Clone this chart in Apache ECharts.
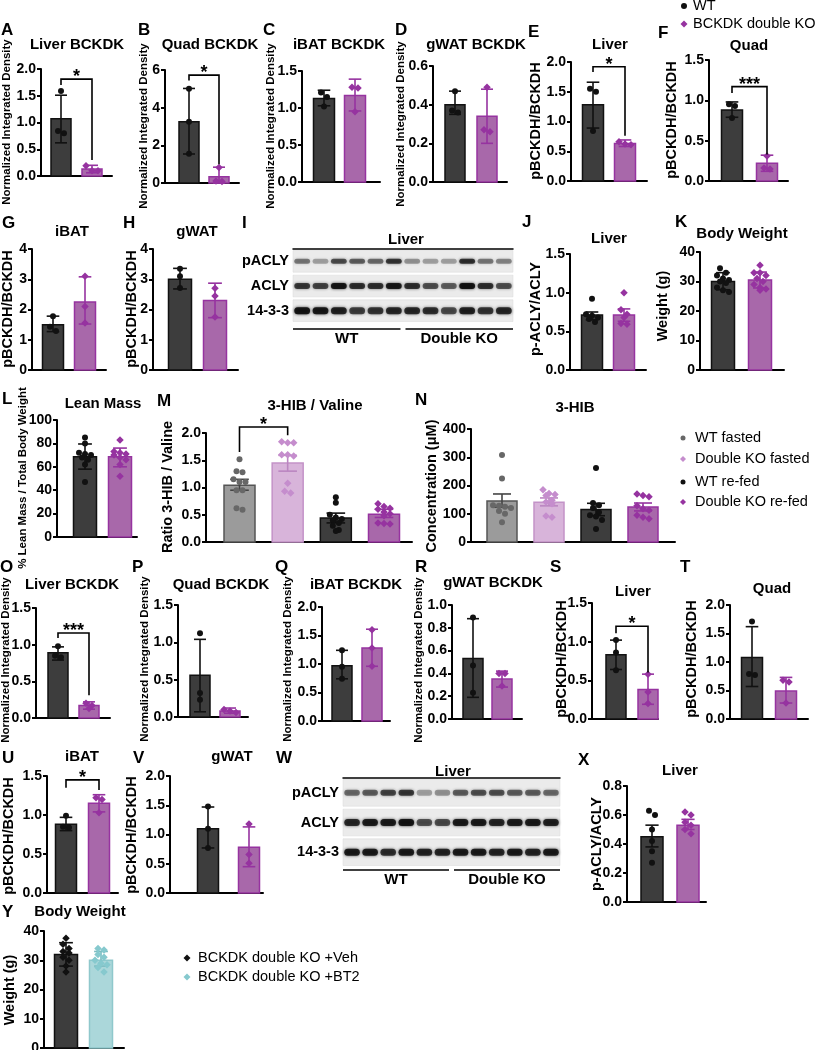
<!DOCTYPE html>
<html><head><meta charset="utf-8">
<script src="https://cdn.jsdelivr.net/npm/echarts@6/dist/echarts.min.js"></script>
<style>html,body{margin:0;padding:0;background:#fff}#c{width:815px;height:1050px}</style>
</head><body><div id="c"></div><script>
// ================= DATA =================
// Each panel: mean bar heights, error bar [low, high], individual points, significance bracket
// bracket = [x1, x2, top, left leg end, right leg end, label] in axis units
const A_mean = [1.07, 0.13], A_err = [[0.62, 1.51], [0.06, 0.20]];
const A_wt = [1.59, 0.80, 0.84], A_ko = [0.19, 0.10, 0.10];
const A_sig = [1, 2, 1.81, 1.70, 0.30, '*'];
const B_mean = [3.25, 0.33], B_err = [[1.54, 5.02], [0, 0.84]];
const B_wt = [5.0, 3.25, 1.55], B_ko = [0.82, 0.10, 0.08];
const B_sig = [1, 2, 5.73, 5.44, 1.0, '*'];
const C_mean = [1.13, 1.17], C_err = [[1.03, 1.24], [0.96, 1.39]];
const C_wt = [1.21, 1.15, 1.02], C_ko = [1.28, 1.27, 0.95];
const D_mean = [0.40, 0.34], D_err = [[0.35, 0.47], [0.20, 0.48]];
const D_wt = [0.47, 0.37, 0.36], D_ko = [0.49, 0.27, 0.26];
const E_mean = [1.28, 0.63], E_err = [[0.89, 1.66], [0.58, 0.69]];
const E_wt = [1.55, 1.50, 0.84], E_ko = [0.66, 0.62, 0.61];
const E_sig = [1, 2, 1.92, 1.83, 0.76, '*'];
const F_mean = [0.88, 0.22], F_err = [[0.79, 0.98], [0.12, 0.32]];
const F_wt = [0.95, 0.93, 0.78], F_ko = [0.31, 0.16, 0.15];
const F_sig = [1, 2, 1.17, 1.09, 0.33, '***'];
const G_mean = [1.5, 2.25], G_err = [[1.27, 1.78], [1.52, 3.08]];
const G_wt = [1.78, 1.43, 1.29], G_ko = [3.1, 2.1, 1.55];
const H_mean = [3.0, 2.3], H_err = [[2.68, 3.36], [1.73, 2.87]];
const H_wt = [3.35, 3.1, 2.71], H_ko = [2.7, 2.45, 1.75];
const J_mean = [0.71, 0.71], J_err = [[0.65, 0.75], [0.63, 0.79]];
const J_wt = [0.92, 0.72, 0.70, 0.68, 0.66, 0.62], J_ko = [1.0, 0.78, 0.72, 0.68, 0.60, 0.59];
const K_mean = [30.0, 30.5], K_err = [[27.2, 33.0], [27.8, 33.2]];
const K_wt = [34.5, 33, 32, 31, 30.5, 30, 29.5, 28, 27, 26.4];
const K_ko = [35.5, 33, 33, 32, 31, 30, 29, 28, 27.5, 27];
const L_mean = [68.5, 68.5], L_err = [[58, 79.5], [60, 76]];
const L_wt = [85, 80, 72, 71, 70, 68, 66, 62, 47], L_ko = [83, 73, 72, 71, 70, 68, 66, 62, 52];
const M_mean = [1.04, 1.45, 0.44, 0.51];
const M_err = [[0.95, 1.15], [1.30, 1.59], [0.35, 0.53], [0.45, 0.60]];
const M_wtFast = [1.52, 1.30, 1.28, 1.15, 1.10, 1.10, 0.95, 0.95, 0.62, 0.59];
const M_koFast = [1.82, 1.82, 1.84, 1.60, 1.60, 1.58, 1.08, 0.93, 0.90];
const M_wtFed = [0.82, 0.72, 0.50, 0.45, 0.42, 0.40, 0.35, 0.30, 0.22, 0.20];
const M_koFed = [0.70, 0.65, 0.62, 0.60, 0.55, 0.52, 0.48, 0.35, 0.34, 0.33];
const M_sig = [1, 2, 2.11, 1.65, 1.96, '*'];
const N_mean = [145, 141, 115, 124];
const N_err = [[123, 170], [128, 156], [93, 137], [110, 138]];
const N_wtFast = [308, 225, 130, 128, 125, 120, 110, 100, 70];
const N_koFast = [185, 172, 168, 165, 148, 142, 135, 92, 88];
const N_wtFed = [262, 138, 130, 120, 105, 95, 90, 78, 46];
const N_koFed = [170, 165, 160, 128, 118, 112, 95, 88, 82];
const O_mean = [0.89, 0.17], O_err = [[0.79, 0.97], [0.12, 0.22]];
const O_wt = [0.98, 0.85, 0.83], O_ko = [0.20, 0.17, 0.13];
const O_sig = [1, 2, 1.16, 1.09, 0.31, '***'];
const P_mean = [0.56, 0.08], P_err = [[0.07, 1.04], [0.05, 0.12]];
const P_wt = [1.12, 0.32, 0.23], P_ko = [0.10, 0.08, 0.06];
const Q_mean = [0.97, 1.28], Q_err = [[0.74, 1.24], [0.96, 1.61]];
const Q_wt = [1.24, 0.95, 0.74], Q_ko = [1.60, 1.28, 0.96];
const R_mean = [0.53, 0.35], R_err = [[0.19, 0.88], [0.28, 0.42]];
const R_wt = [0.89, 0.47, 0.23], R_ko = [0.40, 0.40, 0.29];
const S_mean = [0.83, 0.38], S_err = [[0.64, 1.02], [0.19, 0.58]];
const S_wt = [1.02, 0.86, 0.63], S_ko = [0.58, 0.35, 0.20];
const S_sig = [1, 2, 1.20, 1.11, 0.60, '*'];
const T_mean = [1.08, 0.49], T_err = [[0.57, 1.62], [0.28, 0.73]];
const T_wt = [1.71, 0.79, 0.77], T_ko = [0.68, 0.65, 0.28];
const U_mean = [0.88, 1.15], U_err = [[0.80, 0.97], [1.04, 1.26]];
const U_wt = [0.99, 0.85, 0.84], U_ko = [1.22, 1.20, 1.03];
const U_sig = [1, 2, 1.45, 1.35, 1.32, '*'];
const V_mean = [1.10, 0.78], V_err = [[0.77, 1.47], [0.45, 1.13]];
const V_wt = [1.48, 1.10, 0.77], V_ko = [1.18, 0.66, 0.51];
const X_mean = [0.45, 0.53], X_err = [[0.38, 0.53], [0.50, 0.57]];
const X_wt = [0.63, 0.60, 0.50, 0.42, 0.35, 0.27], X_ko = [0.62, 0.60, 0.55, 0.53, 0.50, 0.47];
const Y_mean = [32, 30], Y_err = [[28, 36], [28, 33]];
const Y_veh = [37.5, 35.5, 34, 33, 32.5, 31, 30, 28, 26], Y_bt2 = [34, 33.5, 32, 31, 30, 29, 28.5, 27.5, 26];

// Western blots: band darkness per lane (12 lanes: 6 WT, 6 Double KO)
const blotRows = ['pACLY', 'ACLY', '14-3-3'];
const blotGroups = ['WT', 'Double KO'];
const I_pACLY = [0.45, 0.30, 0.62, 0.55, 0.50, 0.72, 0.35, 0.30, 0.30, 0.75, 0.45, 0.40];
const I_ACLY  = [0.70, 0.65, 0.90, 0.75, 0.75, 0.88, 0.75, 0.60, 0.55, 0.92, 0.75, 0.60];
const I_1433  = [0.90, 0.88, 0.82, 0.68, 0.72, 0.78, 0.78, 0.75, 0.62, 0.82, 0.72, 0.78];
const W_pACLY = [0.50, 0.55, 0.65, 0.70, 0.30, 0.35, 0.55, 0.60, 0.60, 0.55, 0.55, 0.50];
const W_ACLY  = [0.78, 0.85, 0.85, 0.90, 0.60, 0.62, 0.85, 0.85, 0.80, 0.85, 0.85, 0.82];
const W_1433  = [0.85, 0.85, 0.75, 0.85, 0.80, 0.80, 0.85, 0.85, 0.80, 0.85, 0.80, 0.85];

// Legends
const legendTop = ['WT', 'BCKDK double KO'];
const legendMN = ['WT fasted', 'Double KO fasted', 'WT re-fed', 'Double KO re-fed'];
const legendY = ['BCKDK double KO +Veh', 'BCKDK double KO +BT2'];

// ================= STYLE / LAYOUT =================
const FONT = "'Liberation Sans', Arial, Helvetica, sans-serif";
const STY = {
  dark:   {fill: '#3d3d3d', stroke: '#111', err: '#111', pt: '#111', sym: 'circle', size: 6},
  darkD:  {fill: '#3d3d3d', stroke: '#111', err: '#111', pt: '#111', sym: 'diamond', size: 7.5},
  purple: {fill: '#a868aa', stroke: '#9633a0', err: '#9633a0', pt: '#9633a0', sym: 'diamond', size: 7.5},
  gray:   {fill: '#9b9b9b', stroke: '#555', err: '#444', pt: '#676767', sym: 'circle', size: 6},
  lilac:  {fill: '#d8b4da', stroke: '#c393c8', err: '#bb86c1', pt: '#c58dcd', sym: 'diamond', size: 7.5},
  teal:   {fill: '#abd7da', stroke: '#8fc8cc', err: '#7cbcc1', pt: '#86c9ce', sym: 'diamond', size: 7.5}
};
const NID = 'Normalized Integrated Density', PB = 'pBCKDH/BCKDH';
const panels = [
  {mean: A_mean, err: A_err, pts: [A_wt, A_ko], sty: ['dark', 'purple'], x0: 41, x1: 112, c: [61, 92], yTop: 69, yBot: 176, max: 2, step: 0.5, dec: 1, bw: 20, title: ['Liver BCKDK', 77, 45], L: ['A', 1, 30], yn: [NID, 7, 122, 11.5], sig: A_sig},
  {mean: B_mean, err: B_err, pts: [B_wt, B_ko], sty: ['dark', 'purple'], x0: 165, x1: 239, c: [189, 219], yTop: 70, yBot: 183, max: 6, step: 2, dec: 0, bw: 20, title: ['Quad BCKDK', 210, 45], L: ['B', 138, 30], yn: [NID, 144, 126, 11.5], sig: B_sig},
  {mean: C_mean, err: C_err, pts: [C_wt, C_ko], sty: ['dark', 'purple'], x0: 302, x1: 380, c: [324, 355], yTop: 71, yBot: 182, max: 1.5, step: 0.5, dec: 1, bw: 21, title: ['iBAT BCKDK', 339, 45], L: ['C', 263, 30], yn: [NID, 271, 126, 11.5]},
  {mean: D_mean, err: D_err, pts: [D_wt, D_ko], sty: ['dark', 'purple'], x0: 433, x1: 507, c: [455, 487], yTop: 66, yBot: 182, max: 0.6, step: 0.2, dec: 1, bw: 20, title: ['gWAT BCKDK', 476, 45], L: ['D', 395, 30], yn: [NID, 401, 124, 11.5]},
  {mean: E_mean, err: E_err, pts: [E_wt, E_ko], sty: ['dark', 'purple'], x0: 571, x1: 647, c: [593, 625], yTop: 62, yBot: 181, max: 2, step: 0.5, dec: 1, bw: 21, title: ['Liver', 610, 45], L: ['E', 528, 32], yn: [PB, 536, 121, 14.5], sig: E_sig},
  {mean: F_mean, err: F_err, pts: [F_wt, F_ko], sty: ['dark', 'purple'], x0: 709, x1: 788, c: [732, 767], yTop: 60, yBot: 181, max: 1.5, step: 0.5, dec: 1, bw: 21, title: ['Quad', 749, 46], L: ['F', 658, 33], yn: [PB, 672, 120, 14.5], sig: F_sig},
  {mean: G_mean, err: G_err, pts: [G_wt, G_ko], sty: ['dark', 'purple'], x0: 32, x1: 106, c: [53, 85], yTop: 249, yBot: 370, max: 4, step: 1, dec: 0, bw: 21, title: ['iBAT', 72, 232], L: ['G', 2, 223], yn: [PB, 8, 309, 14.5]},
  {mean: H_mean, err: H_err, pts: [H_wt, H_ko], sty: ['dark', 'purple'], x0: 153, x1: 238, c: [180, 215], yTop: 249, yBot: 370, max: 4, step: 1, dec: 0, bw: 23, title: ['gWAT', 197, 232], L: ['H', 123, 223], yn: [PB, 132, 309, 14.5]},
  {mean: J_mean, err: J_err, pts: [J_wt, J_ko], sty: ['dark', 'purple'], x0: 570, x1: 646, c: [592, 624], yTop: 254, yBot: 370, max: 1.5, step: 0.5, dec: 1, bw: 21, title: ['Liver', 609, 239], L: ['J', 522, 222], yn: ['p-ACLY/ACLY', 536, 309, 14.5]},
  {mean: K_mean, err: K_err, pts: [K_wt, K_ko], sty: ['dark', 'purple'], x0: 700, x1: 784, c: [723, 760], yTop: 252, yBot: 370, max: 40, step: 10, dec: 0, bw: 23, title: ['Body Weight', 742, 234], L: ['K', 675, 222], yn: ['Weight (g)', 663, 306, 14.5]},
  {mean: L_mean, err: L_err, pts: [L_wt, L_ko], sty: ['dark', 'purple'], x0: 57, x1: 137, c: [85, 120], yTop: 420, yBot: 537, max: 100, step: 20, dec: 0, bw: 23, title: ['Lean Mass', 103, 404], L: ['L', 2, 399], yn: ['% Lean Mass / Total Body Weight', 23, 478, 11.5]},
  {mean: M_mean, err: M_err, pts: [M_wtFast, M_koFast, M_wtFed, M_koFed], sty: ['gray', 'lilac', 'dark', 'purple'], x0: 206, x1: 412, c: [239.5, 288, 336, 384], yTop: 433, yBot: 542, max: 2, step: 0.5, dec: 1, bw: 31, title: ['3-HIB / Valine', 315, 406], L: ['M', 157, 401], yn: ['Ratio 3-HIB / Valine', 168, 487, 14.5], sig: M_sig},
  {mean: N_mean, err: N_err, pts: [N_wtFast, N_koFast, N_wtFed, N_koFed], sty: ['gray', 'lilac', 'dark', 'purple'], x0: 471, x1: 675, c: [502, 549, 596, 643], yTop: 429, yBot: 542, max: 400, step: 100, dec: 0, bw: 30, title: ['3-HIB', 575, 408], L: ['N', 415, 400], yn: ['Concentration (\u03bcM)', 432, 486, 14.5]},
  {mean: O_mean, err: O_err, pts: [O_wt, O_ko], sty: ['dark', 'purple'], x0: 36, x1: 110, c: [58, 89], yTop: 608, yBot: 718, max: 1.5, step: 0.5, dec: 1, bw: 20, title: ['Liver BCKDK', 72, 585], L: ['O', 0, 567], yn: [NID, 6, 660, 11.5], sig: O_sig},
  {mean: P_mean, err: P_err, pts: [P_wt, P_ko], sty: ['dark', 'purple'], x0: 178, x1: 248, c: [200, 230], yTop: 605, yBot: 717, max: 1.5, step: 0.5, dec: 1, bw: 20, title: ['Quad BCKDK', 221, 585], L: ['P', 132, 567], yn: [NID, 145, 659, 11.5]},
  {mean: Q_mean, err: Q_err, pts: [Q_wt, Q_ko], sty: ['dark', 'purple'], x0: 322, x1: 390, c: [342, 372], yTop: 607, yBot: 721, max: 2, step: 0.5, dec: 1, bw: 20, title: ['iBAT BCKDK', 356, 585], L: ['Q', 275, 567], yn: [NID, 288, 659, 11.5]},
  {mean: R_mean, err: R_err, pts: [R_wt, R_ko], sty: ['dark', 'purple'], x0: 452, x1: 522, c: [473, 502], yTop: 605, yBot: 719, max: 1, step: 0.2, dec: 1, bw: 20, title: ['gWAT BCKDK', 493, 583], L: ['R', 415, 567], yn: [NID, 419, 660, 11.5]},
  {mean: S_mean, err: S_err, pts: [S_wt, S_ko], sty: ['dark', 'purple'], x0: 592, x1: 658, c: [616, 648], yTop: 603, yBot: 719, max: 1.5, step: 0.5, dec: 1, bw: 20, title: ['Liver', 633, 592], L: ['S', 550, 567], yn: [PB, 562, 659, 14.5], sig: S_sig},
  {mean: T_mean, err: T_err, pts: [T_wt, T_ko], sty: ['dark', 'purple'], x0: 730, x1: 808, c: [752, 786], yTop: 605, yBot: 719, max: 2, step: 0.5, dec: 1, bw: 21, title: ['Quad', 772, 589], L: ['T', 680, 567], yn: [PB, 692, 659, 14.5]},
  {mean: U_mean, err: U_err, pts: [U_wt, U_ko], sty: ['dark', 'purple'], x0: 47, x1: 118, c: [66, 99], yTop: 776, yBot: 893, max: 1.5, step: 0.5, dec: 1, bw: 21, title: ['iBAT', 82, 757], L: ['U', 2, 758], yn: [PB, 9, 836, 14.5], sig: U_sig},
  {mean: V_mean, err: V_err, pts: [V_wt, V_ko], sty: ['dark', 'purple'], x0: 170, x1: 263, c: [208, 249], yTop: 776, yBot: 893, max: 2, step: 0.5, dec: 1, bw: 21, title: ['gWAT', 232, 757], L: ['V', 133, 758], yn: [PB, 132, 835, 14.5]},
  {mean: X_mean, err: X_err, pts: [X_wt, X_ko], sty: ['dark', 'purple'], x0: 627, x1: 706, c: [652, 688], yTop: 786, yBot: 902, max: 0.8, step: 0.2, dec: 1, bw: 22, title: ['Liver', 680, 771], L: ['X', 578, 760], yn: ['p-ACLY/ACLY', 597, 844, 14.5]},
  {mean: Y_mean, err: Y_err, pts: [Y_veh, Y_bt2], sty: ['darkD', 'teal'], x0: 44, x1: 124, c: [66, 101], yTop: 931, yBot: 1048, max: 40, step: 10, dec: 0, bw: 23, title: ['Body Weight', 80, 912], L: ['Y', 2, 912], yn: ['Weight (g)', 10, 990, 14.5]}
];
const blots = [
  {rows: [I_pACLY, I_ACLY, I_1433], x0: 293, x1: 513, yTop: 249, yBot: 323, under: 6, title: ['Liver', 406, 240], L: ['I', 242, 223], bandH: [5, 6, 7]},
  {rows: [W_pACLY, W_ACLY, W_1433], x0: 343, x1: 560, yTop: 778, yBot: 867, under: 3, title: ['Liver', 453, 772], L: ['W', 276, 758], bandH: [6, 7, 7]}
];

// ================= BUILD =================
const option = {animation: false, backgroundColor: '#fff', grid: [], xAxis: [], yAxis: [], series: [], graphic: {elements: []}};
const G = option.graphic.elements;
function txt(text, x, y, size, weight, align, rot) {
  G.push({type: 'text', x: x, y: y, rotation: rot || 0, silent: true, z: 10,
    style: {text: text, x: 0, y: 0, font: (weight || 'bold') + ' ' + size + 'px ' + FONT, fill: '#000',
      textAlign: align || 'center', align: align || 'center', textVerticalAlign: 'middle', verticalAlign: 'middle'}});
}
function jitter(vals, xc, pxPerVal, unitPx, bw) {
  const sorted = vals.slice().sort((a, b) => b - a);
  const maxK = Math.max(1, Math.floor(bw / 6));
  const clusters = []; let cur = [];
  sorted.forEach(v => {
    if (cur.length && ((cur[0] - v) * pxPerVal > 5 || cur.length >= maxK)) { clusters.push(cur); cur = []; }
    cur.push(v);
  });
  if (cur.length) clusters.push(cur);
  const out = [];
  clusters.forEach(cl => {
    const k = cl.length;
    cl.forEach((v, j) => out.push([xc + ((j - (k - 1) / 2) * 6) / unitPx, v]));
  });
  return out;
}
const axisLineStyle = {color: '#000', width: 2};
panels.forEach((p, i) => {
  const n = p.mean.length;
  const unit = (p.c[n - 1] - p.c[0]) / (n - 1);
  const xmin = 1 - (p.c[0] - p.x0) / unit, xmax = n + (p.x1 - p.c[n - 1]) / unit;
  const pxPerVal = (p.yBot - p.yTop) / p.max;
  option.grid.push({left: p.x0, top: p.yTop, width: p.x1 - p.x0, height: p.yBot - p.yTop, outerBoundsMode: 'none', containLabel: false});
  option.xAxis.push({type: 'value', gridIndex: i, min: xmin, max: xmax,
    axisLine: {show: true, onZero: false, lineStyle: axisLineStyle}, axisTick: {show: false}, axisLabel: {show: false}, splitLine: {show: false}});
  option.yAxis.push({type: 'value', gridIndex: i, min: 0, max: p.max, interval: p.step,
    axisLine: {show: true, onZero: false, lineStyle: axisLineStyle},
    axisTick: {show: true, length: 4, lineStyle: {color: '#000', width: 2}},
    axisLabel: {show: true, margin: 5, color: '#000', fontSize: 14, fontWeight: 'bold', fontFamily: FONT,
      hideOverlap: false, formatter: v => v.toFixed(p.dec)},
    splitLine: {show: false}});
  const bw = p.bw;
  option.series.push({type: 'custom', xAxisIndex: i, yAxisIndex: i, clip: false, z: 2,
    data: p.mean.map((m, k) => [k + 1, m, p.err[k][0], p.err[k][1], k]),
    renderItem: (params, api) => {
      const x = api.value(0), m = api.value(1), lo = api.value(2), hi = api.value(3), k = api.value(4);
      const st = STY[p.sty[k]];
      const top = api.coord([x, m]), base = api.coord([x, 0]);
      const pl = api.coord([x, lo]), ph = api.coord([x, hi]);
      const cap = bw * 0.6;
      return {type: 'group', children: [
        {type: 'rect', shape: {x: top[0] - bw / 2, y: top[1], width: bw, height: base[1] - top[1]}, style: {fill: st.fill, stroke: st.stroke, lineWidth: 1.5}},
        {type: 'line', shape: {x1: top[0], y1: pl[1], x2: top[0], y2: ph[1]}, style: {stroke: st.err, lineWidth: 1.6}},
        {type: 'line', shape: {x1: top[0] - cap / 2, y1: ph[1], x2: top[0] + cap / 2, y2: ph[1]}, style: {stroke: st.err, lineWidth: 1.6}},
        {type: 'line', shape: {x1: top[0] - cap / 2, y1: pl[1], x2: top[0] + cap / 2, y2: pl[1]}, style: {stroke: st.err, lineWidth: 1.6}}
      ]};
    }});
  p.pts.forEach((arr, k) => {
    const st = STY[p.sty[k]];
    option.series.push({type: 'scatter', xAxisIndex: i, yAxisIndex: i, clip: false, z: 3,
      symbol: st.sym, symbolSize: st.size, itemStyle: {color: st.pt, opacity: 1},
      data: jitter(arr, k + 1, pxPerVal, unit, bw)});
  });
  if (p.sig) {
    const s = p.sig;
    option.series.push({type: 'custom', xAxisIndex: i, yAxisIndex: i, clip: false, z: 5, data: [[s[0], s[2]]],
      renderItem: (params, api) => {
        const a = api.coord([s[0], s[2]]), b = api.coord([s[1], s[2]]);
        const aB = api.coord([s[0], s[3]]), bB = api.coord([s[1], s[4]]);
        return {type: 'group', children: [
          {type: 'polyline', shape: {points: [[aB[0], aB[1]], [a[0], a[1]], [b[0], b[1]], [bB[0], bB[1]]]}, style: {stroke: '#000', lineWidth: 1.6, fill: null}},
          {type: 'text', style: {text: s[5], x: (a[0] + b[0]) / 2, y: a[1] - 2, font: 'bold 18px ' + FONT, fill: '#000',
            textAlign: 'center', align: 'center', textVerticalAlign: 'middle', verticalAlign: 'middle'}}
        ]};
      }});
  }
  txt(p.title[0], p.title[1], p.title[2], 15, 'bold');
  txt(p.L[0], p.L[1], p.L[2], 17, 'bold', 'left');
  txt(p.yn[0], p.yn[1], p.yn[2], p.yn[3], 'bold', 'center', Math.PI / 2);
});

// Western blots
blots.forEach((b) => {
  const gi = option.grid.length;
  option.grid.push({left: b.x0, top: b.yTop, width: b.x1 - b.x0, height: b.yBot - b.yTop, outerBoundsMode: 'none', containLabel: false});
  option.xAxis.push({type: 'value', gridIndex: gi, min: 0, max: 12, position: 'top',
    axisLine: {show: true, onZero: false, lineStyle: {color: '#000', width: 1.5}}, axisTick: {show: false}, axisLabel: {show: false}, splitLine: {show: false}});
  option.yAxis.push({type: 'category', gridIndex: gi, data: blotRows, inverse: true,
    axisLine: {show: false}, axisTick: {show: false}, splitLine: {show: false},
    axisLabel: {show: true, margin: 4, color: '#000', fontSize: 14.5, fontWeight: 'bold', fontFamily: FONT}});
  option.series.push({type: 'custom', xAxisIndex: gi, yAxisIndex: gi, clip: false, z: 1,
    data: blotRows.map((r, k) => [0, k]),
    renderItem: (params, api) => {
      const l = api.coord([0, api.value(1)]), r = api.coord([12, api.value(1)]);
      const h = api.size([1, 1])[1];
      return {type: 'rect', shape: {x: l[0], y: l[1] - h / 2 + 1.5, width: r[0] - l[0], height: h - 3},
        style: {fill: '#ebebeb', stroke: '#d9d9d9', lineWidth: 0.5}};
    }});
  const bandData = [];
  b.rows.forEach((row, r) => row.forEach((d, lane) => bandData.push([lane + 0.5, r, d])));
  option.series.push({type: 'custom', xAxisIndex: gi, yAxisIndex: gi, clip: false, z: 2, data: bandData,
    renderItem: (params, api) => {
      const c = api.coord([api.value(0), api.value(1)]);
      const w = api.size([1, 1])[0] * 0.86;
      const h = b.bandH[api.value(1)];
      const d = api.value(2);
      const col = 'rgba(12,12,12,' + d + ')';
      return {type: 'rect', shape: {x: c[0] - w / 2, y: c[1] - h / 2, width: w, height: h, r: h / 2},
        style: {fill: col, shadowBlur: 3, shadowColor: col}};
    }});
  option.series.push({type: 'custom', xAxisIndex: gi, yAxisIndex: gi, clip: false, z: 3,
    data: blotGroups.map((g, k) => [k * 6, k * 6 + 6, k]),
    renderItem: (params, api) => {
      const cs = params.coordSys;
      const s = api.value(0), e = api.value(1), k = api.value(2);
      const xs = api.coord([s, 0])[0] + (k > 0 ? 2.5 : 0), xe = api.coord([e, 0])[0] - (k === 0 ? 2.5 : 0);
      const y = cs.y + cs.height + b.under;
      return {type: 'group', children: [
        {type: 'line', shape: {x1: xs, y1: y, x2: xe, y2: y}, style: {stroke: '#000', lineWidth: 1.5}},
        {type: 'text', style: {text: blotGroups[k], x: (xs + xe) / 2, y: y + 10, font: 'bold 15px ' + FONT, fill: '#000',
          textAlign: 'center', align: 'center', textVerticalAlign: 'middle', verticalAlign: 'middle'}}
      ]};
    }});
  txt(b.title[0], b.title[1], b.title[2], 15, 'bold');
  txt(b.L[0], b.L[1], b.L[2], 17, 'bold', 'left');
});

// Legends (markers + labels)
function marker(kind, x, y, color, s) {
  if (kind === 'circle') G.push({type: 'circle', silent: true, shape: {cx: x, cy: y, r: s / 2}, style: {fill: color}});
  else G.push({type: 'polygon', silent: true, shape: {points: [[x, y - s / 2], [x + s / 2, y], [x, y + s / 2], [x - s / 2, y]]}, style: {fill: color}});
}
marker('circle', 684, 6, STY.dark.pt, 6); txt(legendTop[0], 693, 6, 14.5, 'normal', 'left');
marker('diamond', 684, 24, STY.purple.pt, 7); txt(legendTop[1], 693, 24, 14.5, 'normal', 'left');
const mnSty = ['gray', 'lilac', 'dark', 'purple'];
[438, 459, 482, 502].forEach((y, k) => {
  const st = STY[mnSty[k]];
  marker(st.sym === 'circle' ? 'circle' : 'diamond', 683, y, st.pt, st.sym === 'circle' ? 5 : 6);
  txt(legendMN[k], 695, y, 14.5, 'normal', 'left');
});
marker('diamond', 187, 958, STY.darkD.pt, 7); txt(legendY[0], 198, 958, 14.5, 'normal', 'left');
marker('diamond', 187, 977, STY.teal.pt, 7); txt(legendY[1], 198, 977, 14.5, 'normal', 'left');

const chart = echarts.init(document.getElementById('c'), null, {renderer: 'canvas', width: 815, height: 1050});
chart.setOption(option);
</script></body></html>
